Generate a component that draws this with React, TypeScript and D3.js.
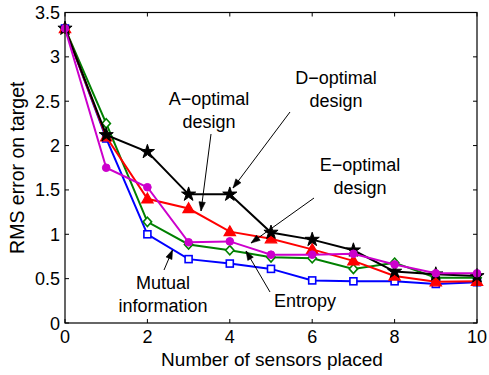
import React from "react";
import * as d3 from "d3";

// Number of sensors placed
const sensors = [0, 1, 2, 3, 4, 5, 6, 7, 8, 9, 10];

// RMS error per selection criterion
const mutualInfo = [3.32, 2.08, 1.0, 0.72, 0.67, 0.61, 0.48, 0.47, 0.47, 0.44, 0.46];
const entropy = [3.32, 2.25, 1.14, 0.885, 0.82, 0.74, 0.73, 0.61, 0.68, 0.51, 0.51];
const aOptimal = [3.32, 2.1, 1.4, 1.29, 1.03, 0.95, 0.83, 0.7, 0.53, 0.465, 0.47];
const dOptimal = [3.32, 2.12, 1.93, 1.45, 1.45, 1.02, 0.94, 0.82, 0.58, 0.55, 0.53];
const eOptimal = [3.32, 1.75, 1.53, 0.91, 0.92, 0.77, 0.77, 0.78, 0.66, 0.56, 0.56];

const xTicks = [0, 2, 4, 6, 8, 10];
const yTicks = [0, 0.5, 1, 1.5, 2, 2.5, 3, 3.5];

type Marker = "square" | "diamond" | "triangle" | "star" | "circle";

const series: { name: string; values: number[]; color: string; marker: Marker }[] = [
  { name: "Mutual information", values: mutualInfo, color: "#0000ff", marker: "square" },
  { name: "Entropy", values: entropy, color: "#008000", marker: "diamond" },
  { name: "A-optimal design", values: aOptimal, color: "#ff0000", marker: "triangle" },
  { name: "D-optimal design", values: dOptimal, color: "#000000", marker: "star" },
  { name: "E-optimal design", values: eOptimal, color: "#cc00cc", marker: "circle" },
];

const W = 489;
const H = 375;
const left = 65;
const right = 477;
const top = 12.5;
const bottom = 323;
const FONT = "'Liberation Sans', Arial, Helvetica, sans-serif";

const x = d3.scaleLinear().domain([0, 10]).range([left, right]);
const y = d3.scaleLinear().domain([0, 3.5]).range([bottom, top]);

const starPath = d3.symbol().type(d3.symbolStar).size(62)() as string;
const circlePath = d3.symbol().type(d3.symbolCircle).size(46)() as string;
const trianglePath = d3.symbol().type(d3.symbolTriangle).size(56)() as string;

function MarkerShape({ kind, color }: { kind: Marker; color: string }) {
  switch (kind) {
    case "square":
      return <rect x={-3.5} y={-3.5} width={7} height={7} fill="white" stroke={color} strokeWidth={1.6} />;
    case "diamond":
      return <path d="M0,-4.6L4.2,0L0,4.6L-4.2,0Z" fill="white" stroke={color} strokeWidth={1.6} />;
    case "triangle":
      return <path d={trianglePath} transform="translate(0,0.8)" fill={color} stroke={color} strokeWidth={1.2} />;
    case "star":
      return <path d={starPath} fill={color} stroke={color} strokeWidth={1} />;
    case "circle":
      return <path d={circlePath} fill={color} stroke={color} strokeWidth={1} />;
  }
}

// Annotation arrows: [fromX, fromY, toX, toY] in pixels
const arrows: [number, number, number, number][] = [
  [211, 134, 201, 211],
  [290, 112, 233, 188],
  [314, 198, 251, 243],
  [164, 270, 172.5, 250],
  [270, 292, 246, 251],
];

const labels: { lines: string[]; cx: number; y0: number }[] = [
  { lines: ["A\u2212optimal", "design"], cx: 209, y0: 105 },
  { lines: ["D\u2212optimal", "design"], cx: 336, y0: 84 },
  { lines: ["E\u2212optimal", "design"], cx: 360, y0: 171 },
  { lines: ["Mutual", "information"], cx: 163, y0: 289 },
  { lines: ["Entropy"], cx: 305, y0: 307 },
];

function Arrow({ a }: { a: [number, number, number, number] }) {
  const [x1, y1, x2, y2] = a;
  const ang = Math.atan2(y2 - y1, x2 - x1);
  const len = 9;
  const half = 3.2;
  const bx = x2 - len * Math.cos(ang);
  const by = y2 - len * Math.sin(ang);
  const px = -Math.sin(ang) * half;
  const py = Math.cos(ang) * half;
  const head = `M${x2},${y2}L${bx + px},${by + py}L${bx - px},${by - py}Z`;
  return (
    <g>
      <line x1={x1} y1={y1} x2={x2} y2={y2} stroke="black" strokeWidth={1} />
      <path d={head} fill="black" stroke="black" strokeWidth={0.6} />
    </g>
  );
}

export default function App() {
  const line = d3
    .line<number>()
    .x((_, i) => x(sensors[i]))
    .y((d) => y(d));

  return (
    <svg
      width={W}
      height={H}
      style={{ position: "absolute", left: 0, top: 0, background: "white" }}
      fontFamily={FONT}
    >
      <rect width={W} height={H} fill="white" />
      {/* series lines and markers */}
      {series.map((s) => (
        <g key={s.name}>
          <path d={line(s.values) as string} fill="none" stroke={s.color} strokeWidth={2} strokeLinejoin="miter" />
          {s.values.map((v, i) => (
            <g key={i} transform={`translate(${x(sensors[i])},${y(v)})`}>
              <MarkerShape kind={s.marker} color={s.color} />
            </g>
          ))}
        </g>
      ))}

      {/* axes box and inward ticks */}
      <rect x={left} y={top} width={right - left} height={bottom - top} fill="none" stroke="black" strokeWidth={1.2} />
      {xTicks.map((t) => (
        <g key={"x" + t}>
          <line x1={x(t)} x2={x(t)} y1={bottom} y2={bottom - 4} stroke="black" />
          <line x1={x(t)} x2={x(t)} y1={top} y2={top + 4} stroke="black" />
          <text x={x(t)} y={bottom + 20} textAnchor="middle" fontSize={18}>
            {t}
          </text>
        </g>
      ))}
      {yTicks.map((t) => (
        <g key={"y" + t}>
          <line x1={left} x2={left + 4} y1={y(t)} y2={y(t)} stroke="black" />
          <line x1={right} x2={right - 4} y1={y(t)} y2={y(t)} stroke="black" />
          <text x={left - 5} y={y(t) + 6.5} textAnchor="end" fontSize={18}>
            {t}
          </text>
        </g>
      ))}

      <text x={272} y={366} textAnchor="middle" fontSize={19}>
        Number of sensors placed
      </text>
      <text transform={`translate(24,${(top + bottom) / 2}) rotate(-90)`} textAnchor="middle" fontSize={19.5}>
        RMS error on target
      </text>

      {/* annotations */}
      {arrows.map((a, i) => (
        <Arrow key={i} a={a} />
      ))}
      {labels.map((l) => (
        <text key={l.lines[0]} textAnchor="middle" fontSize={18}>
          {l.lines.map((ln, i) => (
            <tspan key={i} x={l.cx} y={l.y0 + i * 23}>
              {ln}
            </tspan>
          ))}
        </text>
      ))}
    </svg>
  );
}
